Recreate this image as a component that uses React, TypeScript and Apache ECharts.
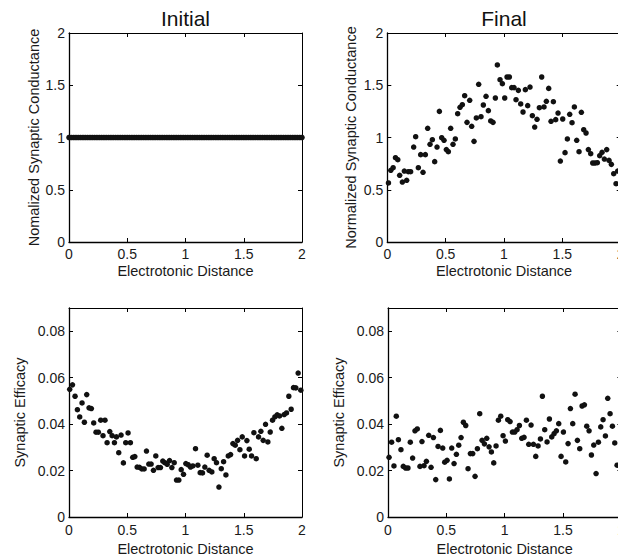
import React, { useEffect, useRef } from "react";
import * as echarts from "echarts";

const FONT = "'Liberation Sans', Arial, Helvetica, sans-serif";

const panelTitles = ["Initial", "Final"];
const xAxisName = "Electrotonic Distance";
const condNames = ["Nomalized Synaptic Conductance", "Normalized Synaptic Conductance"];
const effName = "Synaptic Efficacy";

const initialCondX = [
  0, 0.02, 0.04, 0.06, 0.08, 0.1, 0.12, 0.14, 0.16, 0.18, 0.2, 0.22, 0.24, 0.26, 0.28, 0.3, 0.32, 0.34, 0.36, 0.38,
  0.4, 0.42, 0.44, 0.46, 0.48, 0.5, 0.52, 0.54, 0.56, 0.58, 0.6, 0.62, 0.64, 0.66, 0.68, 0.7, 0.72, 0.74, 0.76, 0.78,
  0.8, 0.82, 0.84, 0.86, 0.88, 0.9, 0.92, 0.94, 0.96, 0.98, 1, 1.02, 1.04, 1.06, 1.08, 1.1, 1.12, 1.14, 1.16, 1.18,
  1.2, 1.22, 1.24, 1.26, 1.28, 1.3, 1.32, 1.34, 1.36, 1.38, 1.4, 1.42, 1.44, 1.46, 1.48, 1.5, 1.52, 1.54, 1.56, 1.58,
  1.6, 1.62, 1.64, 1.66, 1.68, 1.7, 1.72, 1.74, 1.76, 1.78, 1.8, 1.82, 1.84, 1.86, 1.88, 1.9, 1.92, 1.94, 1.96, 1.98, 2,
];
const initialCondY = [
  1, 1, 1, 1, 1, 1, 1, 1, 1, 1, 1, 1, 1, 1, 1, 1, 1, 1, 1, 1,
  1, 1, 1, 1, 1, 1, 1, 1, 1, 1, 1, 1, 1, 1, 1, 1, 1, 1, 1, 1,
  1, 1, 1, 1, 1, 1, 1, 1, 1, 1, 1, 1, 1, 1, 1, 1, 1, 1, 1, 1,
  1, 1, 1, 1, 1, 1, 1, 1, 1, 1, 1, 1, 1, 1, 1, 1, 1, 1, 1, 1,
  1, 1, 1, 1, 1, 1, 1, 1, 1, 1, 1, 1, 1, 1, 1, 1, 1, 1, 1, 1, 1,
];

const finalCondX = [
  0.01, 0.03, 0.05, 0.07, 0.09, 0.106, 0.129, 0.146, 0.166, 0.18, 0.2, 0.226, 0.243, 0.266, 0.286, 0.306, 0.326, 0.346, 0.366, 0.386,
  0.406, 0.426, 0.446, 0.466, 0.486, 0.506, 0.523, 0.543, 0.563, 0.583, 0.603, 0.623, 0.643, 0.663, 0.683, 0.706, 0.723, 0.743, 0.763, 0.783,
  0.803, 0.823, 0.846, 0.866, 0.886, 0.906, 0.926, 0.943, 0.966, 0.986, 1.006, 1.026, 1.046, 1.066, 1.086, 1.103, 1.123, 1.143, 1.163, 1.183,
  1.203, 1.223, 1.243, 1.263, 1.283, 1.303, 1.323, 1.343, 1.363, 1.383, 1.403, 1.423, 1.443, 1.463, 1.483, 1.503, 1.523, 1.543, 1.563, 1.583,
  1.603, 1.623, 1.643, 1.663, 1.683, 1.703, 1.723, 1.743, 1.76, 1.78, 1.8, 1.82, 1.84, 1.86, 1.88, 1.9, 1.92, 1.94, 1.96, 1.974,
];
const finalCondY = [
  0.565, 0.686, 0.711, 0.807, 0.788, 0.638, 0.574, 0.679, 0.59, 0.673, 0.673, 0.909, 1.008, 0.711, 0.836, 0.667, 0.836, 1.088, 0.935, 0.979,
  0.769, 0.909, 1.25, 0.998, 0.973, 0.884, 0.864, 1.088, 0.935, 0.986, 1.228, 1.289, 1.314, 1.4, 1.145, 1.356, 1.107, 0.963, 1.187, 1.509,
  1.199, 1.311, 1.394, 1.257, 1.158, 1.145, 1.378, 1.694, 1.553, 1.515, 1.378, 1.579, 1.579, 1.477, 1.477, 1.362, 1.451, 1.321, 1.244, 1.458,
  1.305, 1.483, 1.209, 1.1, 1.174, 1.285, 1.579, 1.292, 1.346, 1.47, 1.155, 1.343, 1.171, 1.234, 0.775, 1.177, 0.855, 0.986, 1.222, 1.142,
  1.292, 0.973, 0.864, 1.241, 1.075, 1.043, 0.884, 0.845, 0.756, 0.756, 0.759, 0.826, 0.858, 0.794, 0.884, 0.781, 0.743, 0.654, 0.558, 0.679,
];

const initialEffX = [
  0.006, 0.03, 0.052, 0.072, 0.092, 0.112, 0.132, 0.152, 0.172, 0.192, 0.212, 0.232, 0.252, 0.272, 0.292, 0.309, 0.327, 0.35, 0.37, 0.39,
  0.407, 0.427, 0.447, 0.467, 0.487, 0.507, 0.527, 0.547, 0.565, 0.585, 0.605, 0.625, 0.645, 0.665, 0.685, 0.705, 0.725, 0.745, 0.765, 0.785,
  0.805, 0.822, 0.843, 0.863, 0.883, 0.903, 0.923, 0.943, 0.963, 0.983, 1.003, 1.023, 1.043, 1.063, 1.086, 1.106, 1.126, 1.146, 1.166, 1.186,
  1.203, 1.226, 1.246, 1.266, 1.287, 1.307, 1.327, 1.347, 1.367, 1.387, 1.407, 1.427, 1.447, 1.467, 1.487, 1.507, 1.527, 1.547, 1.567, 1.587,
  1.607, 1.627, 1.647, 1.667, 1.687, 1.707, 1.727, 1.747, 1.767, 1.787, 1.807, 1.827, 1.847, 1.867, 1.887, 1.907, 1.927, 1.947, 1.967, 1.99,
];
const initialEffY = [
  0.055, 0.0569, 0.052, 0.0462, 0.0431, 0.0491, 0.0408, 0.0527, 0.047, 0.0467, 0.0405, 0.0365, 0.0365, 0.0417, 0.035, 0.0417, 0.032, 0.0368, 0.035, 0.032,
  0.0345, 0.0277, 0.0353, 0.0233, 0.032, 0.0362, 0.032, 0.0257, 0.026, 0.0215, 0.0214, 0.0207, 0.0207, 0.0284, 0.0228, 0.0228, 0.0201, 0.0263, 0.0213, 0.0213,
  0.0241, 0.0234, 0.0227, 0.0243, 0.0213, 0.0234, 0.0159, 0.0159, 0.0204, 0.0184, 0.023, 0.0225, 0.0215, 0.022, 0.0294, 0.0223, 0.0191, 0.019, 0.0215, 0.0266,
  0.0201, 0.0194, 0.0251, 0.0234, 0.0129, 0.0208, 0.0238, 0.0181, 0.0263, 0.0269, 0.0316, 0.0309, 0.033, 0.029, 0.0345, 0.0263, 0.0329, 0.0292, 0.0263, 0.0363,
  0.0251, 0.0345, 0.0369, 0.033, 0.0399, 0.0323, 0.0366, 0.0417, 0.0431, 0.044, 0.0435, 0.0382, 0.0441, 0.0448, 0.052, 0.0464, 0.0557, 0.0556, 0.062, 0.0546,
];

const finalEffX = [
  0.009, 0.031, 0.051, 0.071, 0.089, 0.111, 0.131, 0.151, 0.171, 0.191, 0.211, 0.231, 0.251, 0.274, 0.291, 0.309, 0.329, 0.349, 0.369, 0.389,
  0.409, 0.429, 0.449, 0.469, 0.486, 0.506, 0.526, 0.546, 0.566, 0.586, 0.606, 0.626, 0.646, 0.666, 0.686, 0.706, 0.726, 0.746, 0.766, 0.786,
  0.806, 0.826, 0.846, 0.866, 0.886, 0.906, 0.926, 0.946, 0.966, 0.986, 1.006, 1.026, 1.046, 1.066, 1.086, 1.106, 1.126, 1.146, 1.166, 1.186,
  1.206, 1.226, 1.246, 1.266, 1.286, 1.306, 1.323, 1.343, 1.363, 1.383, 1.403, 1.423, 1.443, 1.463, 1.483, 1.503, 1.523, 1.543, 1.563, 1.583,
  1.603, 1.623, 1.643, 1.663, 1.683, 1.703, 1.723, 1.743, 1.763, 1.783, 1.803, 1.823, 1.843, 1.863, 1.883, 1.903, 1.923, 1.943, 1.963,
];
const finalEffY = [
  0.0257, 0.0322, 0.022, 0.0434, 0.0333, 0.029, 0.0218, 0.0211, 0.0211, 0.0322, 0.0254, 0.0371, 0.0379, 0.0218, 0.0325, 0.0221, 0.024, 0.0352, 0.0214, 0.0342,
  0.0161, 0.0304, 0.0373, 0.0297, 0.0236, 0.0244, 0.0164, 0.0297, 0.023, 0.027, 0.0309, 0.0342, 0.0408, 0.0394, 0.0208, 0.0273, 0.0273, 0.0175, 0.0294, 0.0445,
  0.033, 0.0315, 0.0339, 0.0302, 0.028, 0.0233, 0.0306, 0.0417, 0.0434, 0.035, 0.0327, 0.0419, 0.0411, 0.0366, 0.0366, 0.0376, 0.0394, 0.0339, 0.0343, 0.0417,
  0.0313, 0.0396, 0.0313, 0.0261, 0.0306, 0.0336, 0.052, 0.0376, 0.0323, 0.0422, 0.0345, 0.0359, 0.0371, 0.0402, 0.0261, 0.0366, 0.0237, 0.0316, 0.0467, 0.0402,
  0.0529, 0.033, 0.0294, 0.0478, 0.0483, 0.0391, 0.0371, 0.0267, 0.031, 0.0187, 0.0322, 0.0388, 0.0419, 0.0349, 0.0511, 0.0445, 0.0391, 0.0319, 0.0223,
];

const zip = (xs: number[], ys: number[]) => xs.map((x, i) => [x, ys[i]]);

export default function App() {
  const ref = useRef<HTMLDivElement>(null);
  useEffect(() => {
    if (!ref.current) return;
    const chart = echarts.init(ref.current, undefined, { renderer: "svg" });

    const grids = [
      { left: 69, top: 33, width: 233, height: 209, outerBoundsMode: "none", containLabel: false },
      { left: 387.3, top: 33, width: 233.4, height: 209, outerBoundsMode: "none", containLabel: false },
      { left: 69, top: 308, width: 233, height: 209, outerBoundsMode: "none", containLabel: false },
      { left: 388, top: 308, width: 233.4, height: 209, outerBoundsMode: "none", containLabel: false },
    ];
    const yRanges = [
      { min: 0, max: 2, interval: 0.5 },
      { min: 0, max: 2, interval: 0.5 },
      { min: 0, max: 0.09, interval: 0.02 },
      { min: 0, max: 0.09, interval: 0.02 },
    ];
    const yNames = [condNames[0], condNames[1], effName, effName];
    const yNameGaps = [26, 29, 42, 42];
    const xNameGaps = [21, 21, 24, 24];
    const xLabelMargins = [5, 5, 6, 6];
    const datasets = [
      zip(initialCondX, initialCondY),
      zip(finalCondX, finalCondY),
      zip(initialEffX, initialEffY),
      zip(finalEffX, finalEffY),
    ];

    const lineStyle = { color: "#000", width: 1 };
    const tick = { show: true, inside: true, length: 4, lineStyle: { color: "#000", width: 1 } };
    const labelStyle = { color: "#1a1a1a", fontSize: 14, fontFamily: FONT };

    const xAxis: any[] = [];
    const yAxis: any[] = [];
    const series: any[] = [];
    grids.forEach((_, i) => {
      xAxis.push({
        type: "value", gridIndex: i, position: "bottom", min: 0, max: 2, interval: 0.5,
        axisLine: { show: true, lineStyle: { ...lineStyle, width: 1.3 } },
        axisTick: tick,
        axisLabel: { ...labelStyle, margin: xLabelMargins[i] },
        splitLine: { show: false },
        name: xAxisName, nameLocation: "middle", nameGap: xNameGaps[i],
        nameTextStyle: { color: "#1a1a1a", fontSize: 14.5, fontFamily: FONT },
      });
      xAxis.push({
        type: "value", gridIndex: i, position: "top", min: 0, max: 2, interval: 0.5,
        axisLine: { show: true, onZero: false, lineStyle },
        axisTick: tick,
        axisLabel: { show: false },
        splitLine: { show: false },
      });
      yAxis.push({
        type: "value", gridIndex: i, position: "left", ...yRanges[i],
        axisLine: { show: true, onZero: false, lineStyle: { ...lineStyle, width: 1.3 } },
        axisTick: tick,
        axisLabel: { ...labelStyle, margin: 4, showMaxLabel: i < 2 },
        splitLine: { show: false },
        name: yNames[i], nameLocation: "middle", nameGap: yNameGaps[i],
        nameTextStyle: { color: "#1a1a1a", fontSize: 14.5, fontFamily: FONT },
      });
      yAxis.push({
        type: "value", gridIndex: i, position: "right", ...yRanges[i],
        axisLine: { show: true, onZero: false, lineStyle },
        axisTick: tick,
        axisLabel: { show: false },
        splitLine: { show: false },
      });
      series.push({
        type: "scatter",
        xAxisIndex: i * 2,
        yAxisIndex: i * 2,
        data: datasets[i],
        symbol: "circle",
        symbolSize: 5.5,
        itemStyle: { color: "#111", opacity: 1 },
        silent: true,
      });
    });

    chart.setOption({
      animation: false,
      backgroundColor: "#fff",
      grid: grids,
      xAxis,
      yAxis,
      series,
      graphic: [
        {
          type: "text", x: 185.5, y: 18,
          style: { text: panelTitles[0], fill: "#111", fontSize: 21, fontFamily: FONT, align: "center", verticalAlign: "middle" },
        },
        {
          type: "text", x: 504, y: 18,
          style: { text: panelTitles[1], fill: "#111", fontSize: 21, fontFamily: FONT, align: "center", verticalAlign: "middle" },
        },
      ],
    });
    return () => chart.dispose();
  }, []);

  return (
    <div
      ref={ref}
      style={{ position: "fixed", left: 0, top: 0, width: 618, height: 557, overflow: "hidden", background: "#fff" }}
    />
  );
}
